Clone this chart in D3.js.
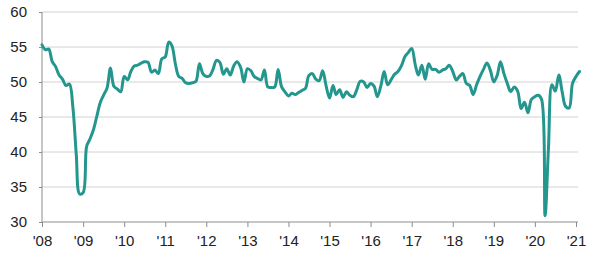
<!DOCTYPE html>
<html>
<head>
<meta charset="utf-8">
<script src="https://cdn.jsdelivr.net/npm/d3@7"></script>
<style>
  body { margin: 0; background: #fff; }
  .axis text { font-family: "Liberation Sans", Arial, sans-serif; font-size: 15px; fill: #222; }
</style>
</head>
<body>
<div id="chart"></div>
<script>
// monthly index values, Jan 2008 .. Feb 2021
const startYear = 2008;
const values = [
  55.3, 54.6, 54.7, 52.9, 52.2, 51.0, 50.4, 49.5, 49.7, 46.5, 39.6, 34.0, // 2008
  34.2, 40.8, 41.8, 43.1, 45.0, 47.0, 48.1, 49.1, 52.0, 49.4, 49.0, 48.6, // 2009
  50.8, 50.3, 51.5, 52.3, 52.4, 52.7, 52.9, 52.8, 51.4, 51.7, 51.2, 53.3, // 2010
  53.6, 55.7, 55.2, 52.6, 50.8, 50.5, 49.9, 49.8, 49.9, 50.1, 52.6, 51.2, // 2011
  50.8, 50.9, 51.8, 53.1, 52.8, 51.1, 51.9, 51.0, 52.3, 52.9, 52.1, 50.0, // 2012
  51.9, 51.6, 50.8, 50.5, 50.3, 51.7, 49.3, 49.2, 49.3, 51.8, 49.3, 48.6, // 2013
  48.0, 48.4, 48.2, 48.5, 48.8, 49.1, 50.9, 51.2, 50.4, 50.2, 51.6, 49.5, // 2014
  47.7, 49.5, 48.2, 48.9, 47.8, 48.6, 48.1, 47.9, 48.9, 50.1, 50.0, 49.2, // 2015
  49.8, 49.4, 47.9, 49.4, 51.5, 49.6, 50.3, 51.1, 51.5, 52.3, 53.6, 54.2, // 2016
  54.8, 52.5, 51.0, 52.4, 50.4, 52.6, 51.8, 51.8, 51.4, 51.7, 51.9, 52.4, // 2017
  51.5, 50.3, 50.8, 51.2, 49.8, 49.5, 48.2, 49.6, 50.8, 51.8, 52.7, 51.7, // 2018
  50.0, 51.0, 52.9, 51.2, 49.8, 48.6, 49.3, 48.7, 46.2, 47.1, 45.6, 47.5, // 2019
  47.9, 48.1, 47.5, 30.9, 40.5, 49.6, 48.7, 51.0, 48.5, 46.5, 46.3, 49.8, // 2020
  50.8, 51.5                                                              // 2021
];
const yTicks = [30, 35, 40, 45, 50, 55, 60];
const xTickYears = [2008, 2009, 2010, 2011, 2012, 2013, 2014, 2015, 2016, 2017, 2018, 2019, 2020, 2021];

const data = values.map((v, i) => ({ date: new Date(startYear, i, 1), value: v }));

const config = {
  width: 600,
  height: 262,
  margin: { top: 12, right: 24, bottom: 40, left: 42 },
};

const innerW = 576 - config.margin.left;
const innerH = config.height - config.margin.top - config.margin.bottom;

const svg = d3.select('#chart').append('svg')
    .attr('width', config.width)
    .attr('height', config.height);

const g = svg.append('g')
    .attr('transform', `translate(${config.margin.left},${config.margin.top})`);

const xScale = d3.scaleTime()
    .domain([new Date(2008, 0, 1), new Date(2021, 0, 1)])
    .range([0, innerW]);

const yScale = d3.scaleLinear()
    .domain([30, 60])
    .range([innerH, 0]);

// horizontal gridlines
g.append('g')
  .selectAll('line')
  .data(yTicks.filter(d => d !== 30))
  .join('line')
    .attr('x1', 0)
    .attr('x2', innerW + 2)
    .attr('y1', d => yScale(d))
    .attr('y2', d => yScale(d))
    .attr('stroke', '#d2d2d2')
    .attr('stroke-width', 1);

// axes
const yAxis = d3.axisLeft(yScale)
    .tickValues(yTicks)
    .tickSize(3)
    .tickPadding(12);

const xAxis = d3.axisBottom(xScale)
    .tickValues(xTickYears.map(y => new Date(y, 0, 1)))
    .tickFormat(d => "'" + String(d.getFullYear()).slice(2))
    .tickSize(5)
    .tickPadding(8);

const yAxisG = g.append('g').attr('class', 'axis').call(yAxis);
const xAxisG = g.append('g').attr('class', 'axis')
    .attr('transform', `translate(0,${innerH})`)
    .call(xAxis);

yAxisG.select('.domain').attr('stroke', '#8c8c8c').attr('d', `M0,0V${innerH}`);
yAxisG.selectAll('.tick line').attr('stroke', '#8c8c8c');
xAxisG.select('.domain').attr('stroke', '#8c8c8c').attr('d', `M0,0H${innerW + 2}`);
xAxisG.selectAll('.tick line').attr('stroke', '#8c8c8c');

// the series line
const line = d3.line()
    .x(d => xScale(d.date))
    .y(d => yScale(d.value))
    .curve(d3.curveCatmullRom.alpha(0.5));

g.append('path')
    .datum(data)
    .attr('fill', 'none')
    .attr('stroke', '#23968e')
    .attr('stroke-width', 3)
    .attr('stroke-linejoin', 'round')
    .attr('stroke-linecap', 'round')
    .attr('d', line);
</script>
</body>
</html>
